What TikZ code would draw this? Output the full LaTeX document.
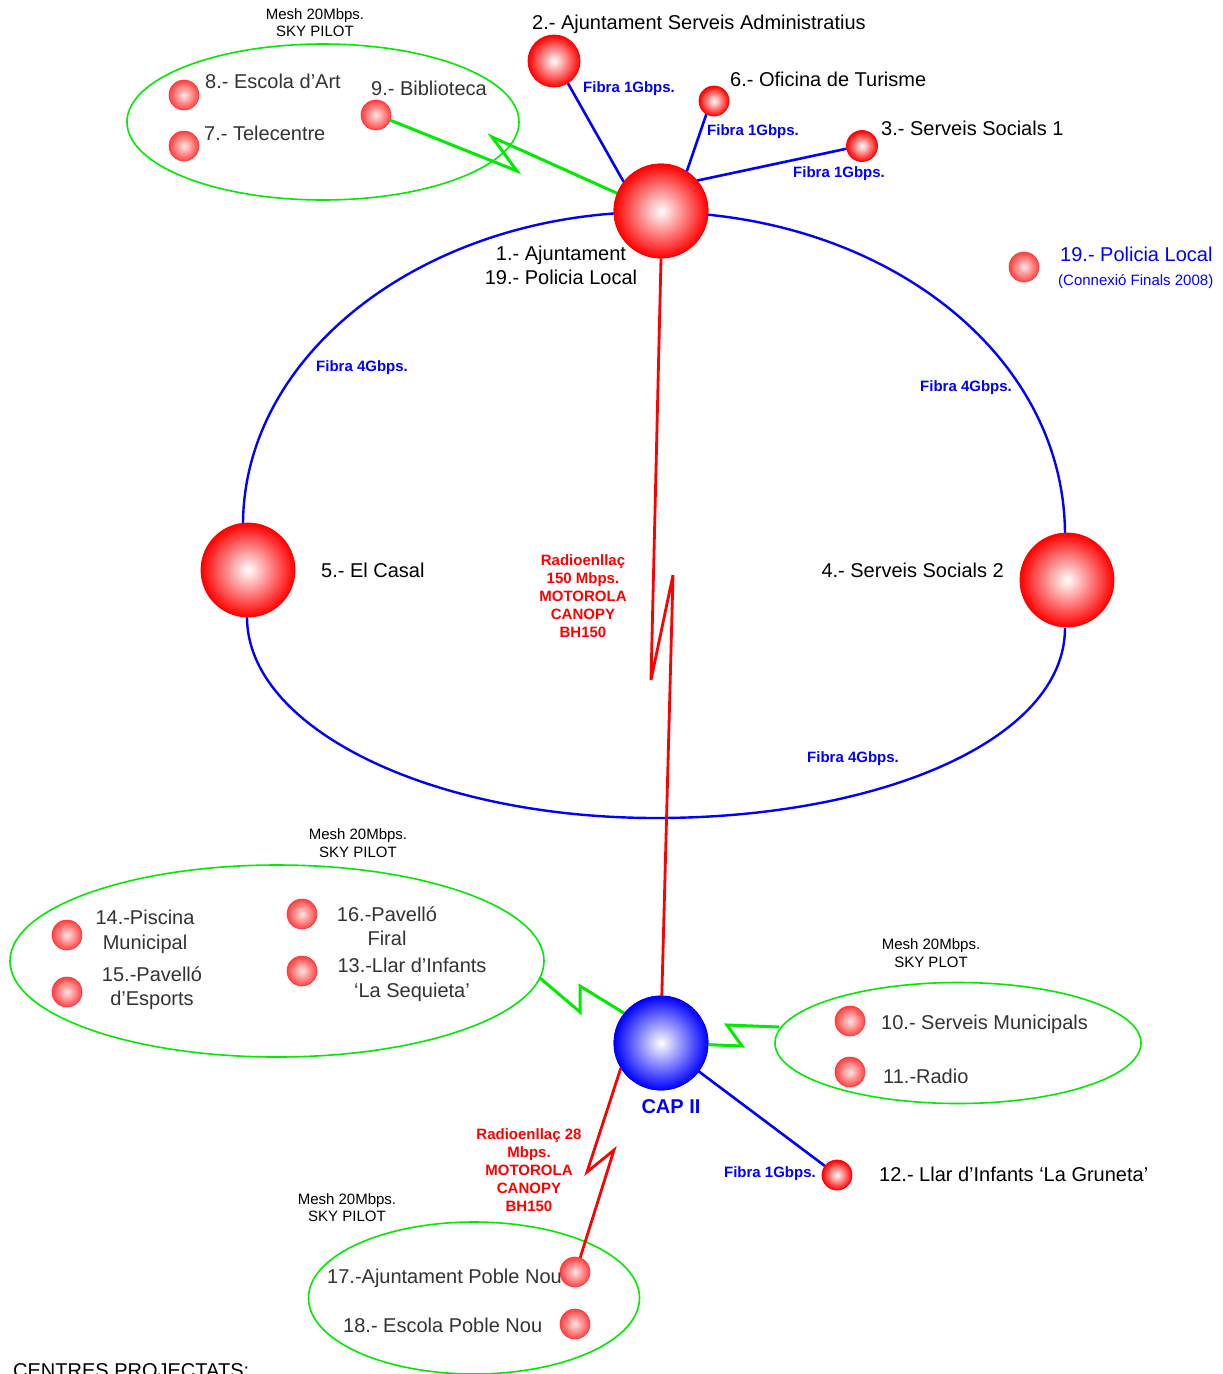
\documentclass[tikz,border=0pt]{standalone}
\usepackage{fontspec}
\setmainfont{Liberation Sans}
\usetikzlibrary{shapes.geometric}
\definecolor{gr}{RGB}{0,235,0}
\definecolor{lab}{RGB}{51,51,51}
\tikzset{
  ball/.style={circle, inner sep=0pt, draw=red, line width=0.8pt, inner color=white, outer color=red},
  bigball/.style={ball, minimum size=94pt},
  midball/.style={ball, minimum size=52pt},
  smallball/.style={ball, minimum size=30pt},
  dotball/.style={circle, inner sep=0pt, minimum size=30pt, draw=red!80, line width=0.6pt, inner color=red!10, outer color=red!75},
  blueball/.style={circle, inner sep=0pt, minimum size=94pt, draw=blue, line width=0.8pt, inner color=white, outer color=blue},
  meshell/.style={ellipse, draw=gr, line width=1.6pt, inner sep=0pt},
  fibre/.style={draw=blue, line width=2.6pt},
  ring/.style={draw=blue, line width=2.4pt},
  radio/.style={draw=red, line width=2.8pt},
  wifi/.style={draw=gr, line width=3pt},
  big/.style={font=\fontsize{20}{24}\selectfont, inner sep=0pt},
  graylab/.style={big, text=lab},
  small/.style={font=\fontsize{15}{17}\selectfont, inner sep=0pt, align=center},
  fib/.style={font=\fontsize{15}{18}\selectfont\bfseries, text=blue, inner sep=0pt},
  rad/.style={font=\fontsize{15}{18}\selectfont\bfseries, text=red, inner sep=0pt, align=center},
}
\begin{document}
\begin{tikzpicture}[x=1pt,y=-1pt]
\useasboundingbox (0,0) rectangle (1223,1374);
\clip (0,0) rectangle (1223,1374);
\fill[white] (0,0) rectangle (1223,1374);

% ring
\draw[ring] (243,525) .. controls (243,352) and (427,212) .. (654,212)
  .. controls (881,212) and (1065,352) .. (1065,535);
\draw[ring] (247,617) .. controls (247,728) and (430,818) .. (656,818)
  .. controls (882,818) and (1065,739) .. (1065,628);

% mesh ellipses
\node[meshell, minimum width=392pt, minimum height=156pt] (elTL) at (323,122) {};
\node[meshell, minimum width=534pt, minimum height=192pt] (elBL) at (277,961) {};
\node[meshell, minimum width=366pt, minimum height=121pt] (elR) at (958,1043) {};
\node[meshell, minimum width=331pt, minimum height=152pt] (elB) at (474,1298) {};

% coordinates for zigzags
\coordinate (z1a) at (517,171);
\coordinate (z1b) at (492,137);
\coordinate (r1a) at (651,680);
\coordinate (r1b) at (673,575);
\coordinate (e2) at (540,978);
\coordinate (z2a) at (580,1012);
\coordinate (z2b) at (580,986);
\coordinate (z3a) at (742,1046);
\coordinate (z3b) at (727,1025);
\coordinate (e3) at (779,1027);
\coordinate (r2a) at (587,1172);
\coordinate (r2b) at (614,1150);

% main nodes
\node[bigball] (n1) at (661,211) {};
\node[midball] (n2) at (554,61) {};
\node[smallball] (n6) at (714,101) {};
\node[ball, minimum size=31pt] (n3) at (862,146) {};
\node[bigball] (n5) at (248,570) {};
\node[bigball] (n4) at (1067,580) {};
\node[dotball] (n19) at (1024,267) {};
\node[blueball] (cap) at (661,1043) {};
\node[smallball] (n12) at (837,1175) {};

% mesh members
\node[dotball] (n8) at (184,95) {};
\node[dotball] (n7) at (184,146) {};
\node[dotball] (n9) at (376,115) {};
\node[dotball] (n14) at (67,935) {};
\node[dotball] (n15) at (67,992) {};
\node[dotball] (n16) at (302,914) {};
\node[dotball] (n13) at (302,971) {};
\node[dotball] (n10) at (850,1021) {};
\node[dotball] (n11) at (850,1072) {};
\node[dotball] (n17) at (575,1272) {};
\node[dotball] (n18) at (575,1324) {};

% connectors
\draw[fibre] (n2.302) -- (n1.142);
\draw[fibre] (n6.240) -- (n1.57);
\draw[fibre] (n3.190) -- (n1.40);
\draw[fibre] (cap) -- (n12);
\draw[wifi] (n9.-20) -- (z1a) -- (z1b) -- (n1.158);
\draw[radio] (n1.270) -- (r1a) -- (r1b) -- (cap.89);
\draw[wifi] (e2) -- (z2a) -- (z2b) -- (cap.141);
\draw[wifi] (cap.-2) -- (z3a) -- (z3b) -- (e3);
\draw[radio] (cap.212) -- (r2a) -- (r2b) -- (n17.70);

% redraw balls on top
\node[bigball] at (n1) {};
\node[blueball] at (cap) {};

% labels
\node[big, anchor=base west] (t2) at (532,29) {2.- Ajuntament Serveis Administratius};
\node[big, anchor=base west] (t6) at (730,86) {6.- Oficina de Turisme};
\node[big, anchor=base west] (t3) at (881,135) {3.- Serveis Socials 1};
\node[big, anchor=north, align=center] (t1) at (561,245.8) {1.- Ajuntament\\19.- Policia Local};
\node[big, anchor=base west] (t5) at (321,577) {5.- El Casal};
\node[big, anchor=base east] (t4) at (1004,577) {4.- Serveis Socials 2};
\node[big, anchor=base west, text=blue] (t19) at (1060,261) {19.- Policia Local};
\node[small, anchor=base west, text=blue] (t19b) at (1058,285) {(Connexió Finals 2008)};

\node[graylab, anchor=base west] (t8) at (205,88) {8.- Escola d’Art};
\node[graylab, anchor=base west] (t7) at (204,140) {7.- Telecentre};
\node[graylab, anchor=base west] (t9) at (371,95) {9.- Biblioteca};
\node[small, anchor=north] (m1) at (315,8.5) {Mesh 20Mbps.\\SKY PILOT};

\node[fib, anchor=base west] (f1) at (583,92) {Fibra 1Gbps.};
\node[fib, anchor=base west] (f2) at (707,135) {Fibra 1Gbps.};
\node[fib, anchor=base west] (f3) at (793,177) {Fibra 1Gbps.};
\node[fib, anchor=base west] (f4) at (316,371) {Fibra 4Gbps.};
\node[fib, anchor=base west] (f5) at (920,391) {Fibra 4Gbps.};
\node[fib, anchor=base west] (f6) at (807,762) {Fibra 4Gbps.};
\node[fib, anchor=base east] (f7) at (816,1177) {Fibra 1Gbps.};

\node[rad, anchor=north] (rl1) at (583,554.5) {Radioenllaç\\150 Mbps.\\MOTOROLA\\CANOPY\\BH150};
\node[rad, anchor=north] (rl2) at (529,1128.5) {Radioenllaç 28\\Mbps.\\MOTOROLA\\CANOPY\\BH150};

\node[small, anchor=north, font=\fontsize{15}{18}\selectfont] (m2) at (358,828.5) {Mesh 20Mbps.\\SKY PILOT};
\node[graylab, anchor=north, align=center, font=\fontsize{20}{25}\selectfont] (t14) at (145,909.8) {14.-Piscina\\Municipal};
\node[graylab, anchor=north, align=center] (t15) at (152,966.8) {15.-Pavelló\\d’Esports};
\node[graylab, anchor=north, align=center] (t16) at (387,906.8) {16.-Pavelló\\Firal};
\node[graylab, anchor=north, align=center, font=\fontsize{20}{25}\selectfont] (t13) at (412,957.8) {13.-Llar d’Infants\\‘La Sequieta’};

\node[small, anchor=north, font=\fontsize{15}{18}\selectfont] (m3) at (931,938.5) {Mesh 20Mbps.\\SKY PLOT};
\node[graylab, anchor=base west] (t10) at (881,1029) {10.- Serveis Municipals};
\node[graylab, anchor=base west] (t11) at (883,1083) {11.-Radio};
\node[big, anchor=base, font=\fontsize{20}{24}\selectfont\bfseries, text=blue] (tcap) at (671,1113) {CAP II};
\node[big, anchor=base west] (t12) at (879,1181) {12.- Llar d’Infants ‘La Gruneta’};

\node[small, anchor=north] (m4) at (347,1193.5) {Mesh 20Mbps.\\SKY PILOT};
\node[graylab, anchor=base west] (t17) at (327,1283) {17.-Ajuntament Poble Nou};
\node[graylab, anchor=base west] (t18) at (343,1332) {18.- Escola Poble Nou};

\node[big, anchor=base west] (tc) at (13,1377) {CENTRES PROJECTATS:};
\end{tikzpicture}
\end{document}
